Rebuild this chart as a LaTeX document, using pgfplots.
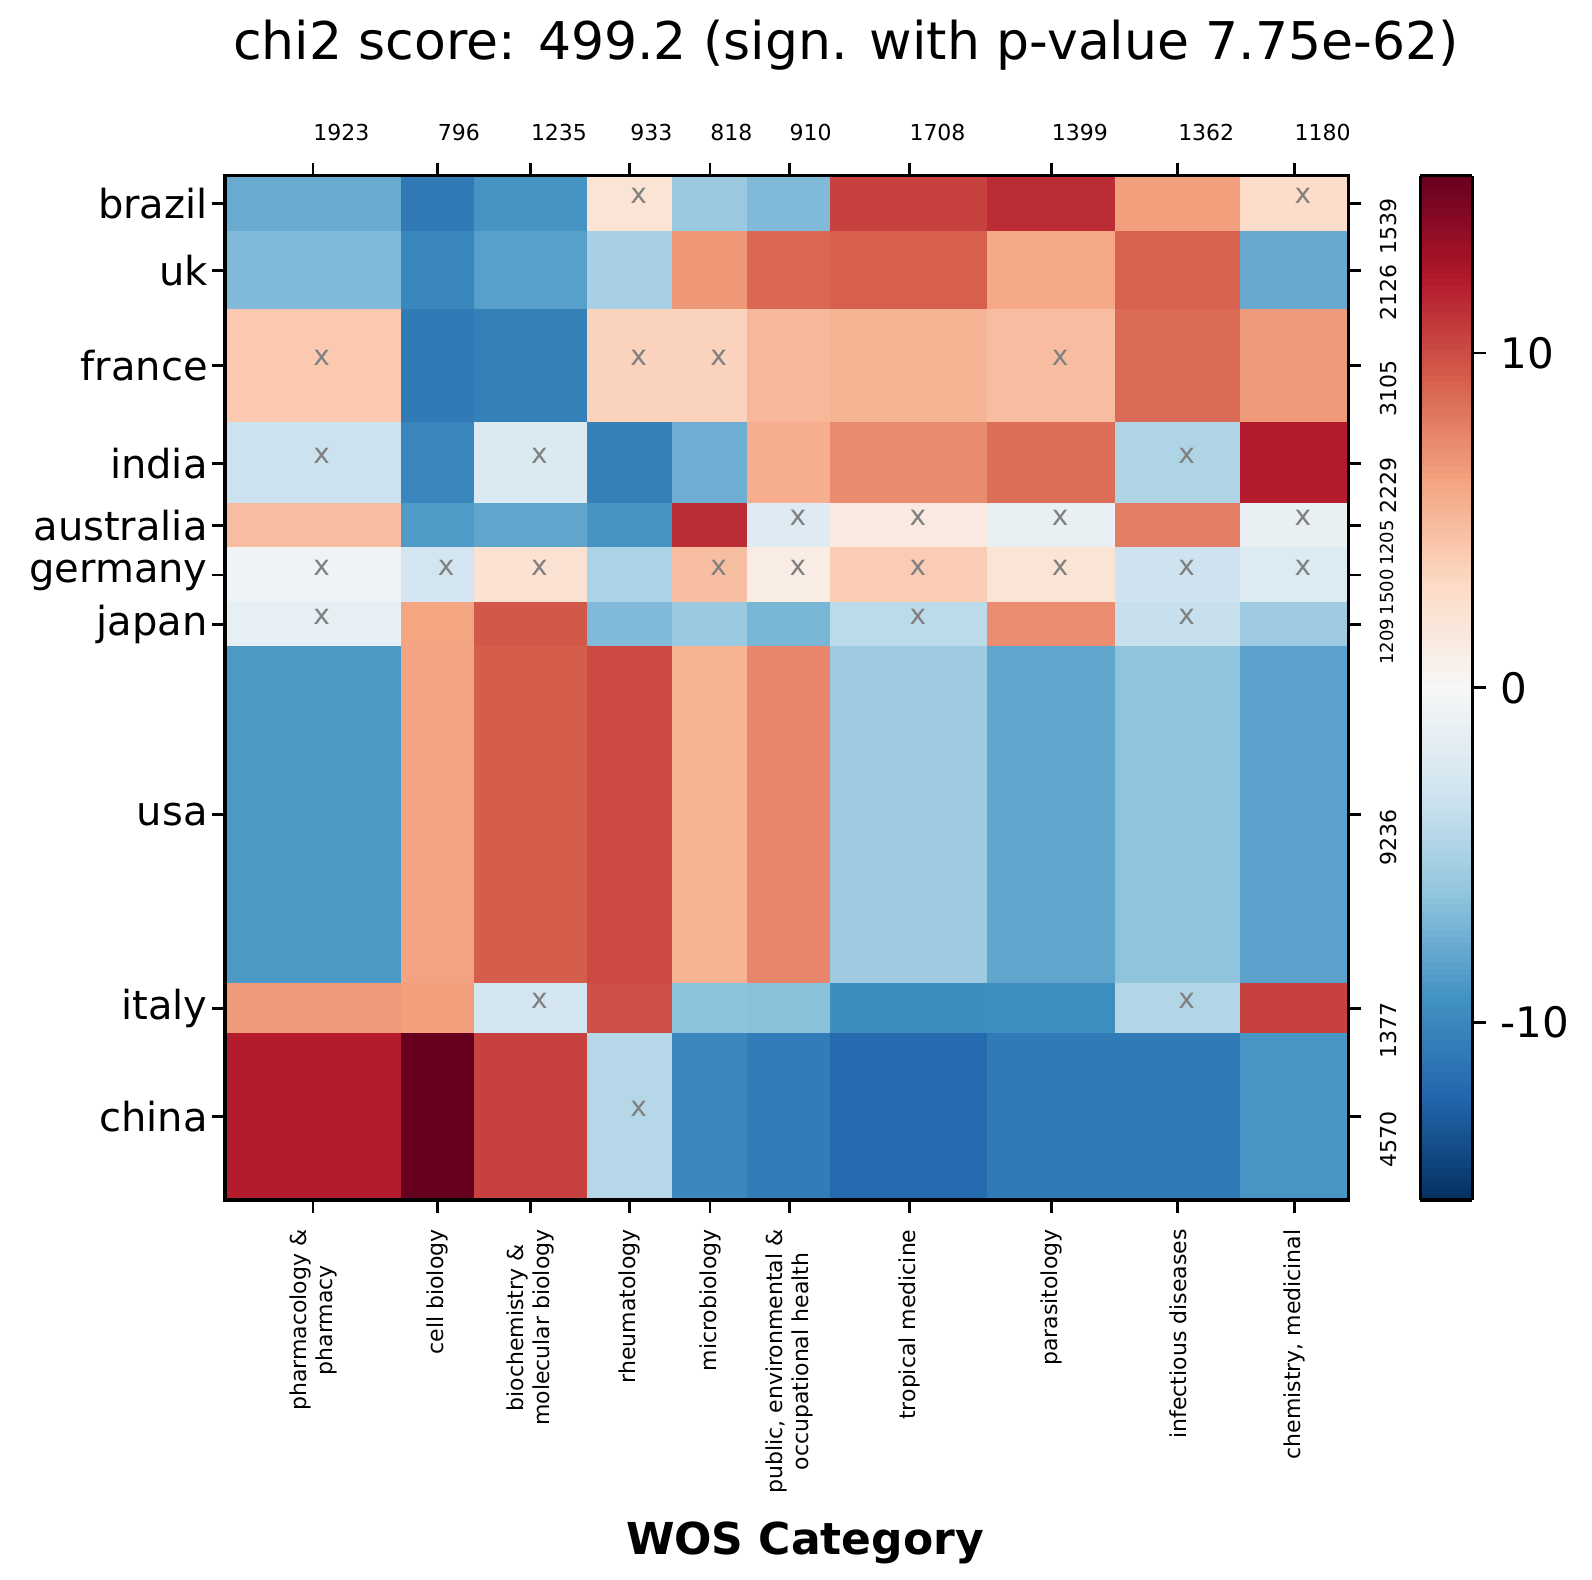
\documentclass[border=0pt]{standalone}
\usepackage{fontspec}
\setmainfont{DejaVu Sans}
\usepackage{pgfplots}
\usepackage{pgfplotstable}
\pgfplotsset{compat=1.18}

% cell corners: x = cumulative category counts, y = cumulative country counts
% c = residual of the cell whose upper-left corner is (x,y); last row/col unused
\pgfplotstableread{
x y c
0 0 -7.7
1923 0 -10.9
2719 0 -9.1
3954 0 2.1
4887 0 -5.7
5705 0 -6.8
6615 0 10.5
8323 0 11.4
9722 0 6.4
11084 0 2.9
12264 0 0
0 1539 -6.8
1923 1539 -10.0
2719 1539 -8.4
3954 1539 -5.1
4887 1539 6.7
5705 1539 8.9
6615 1539 9.2
8323 1539 5.9
9722 1539 9.1
11084 1539 -7.8
12264 1539 0
0 3665 4.1
1923 3665 -10.9
2719 3665 -10.5
3954 3665 3.6
4887 3665 3.6
5705 3665 5.1
6615 3665 5.3
8323 3665 4.8
9722 3665 8.7
11084 3665 6.6
12264 3665 0
0 6770 -3.3
1923 6770 -10.0
2719 6770 -2.3
3954 6770 -10.5
4887 6770 -7.5
5705 6770 5.6
6615 6770 7.3
8323 6770 8.6
9722 6770 -4.7
11084 6770 12.1
12264 6770 0
0 8999 4.8
1923 8999 -8.7
2719 8999 -8.1
3954 8999 -9.1
4887 8999 11.4
5705 8999 -2.0
6615 8999 1.5
8323 8999 -1.2
9722 8999 7.8
11084 8999 -1.2
12264 8999 0
0 10204 -0.6
1923 10204 -3.0
2719 10204 2.3
3954 10204 -4.9
4887 10204 4.7
5705 10204 1.2
6615 10204 3.9
8323 10204 2.2
9722 10204 -3.2
11084 10204 -2.2
12264 10204 0
0 11704 -1.4
1923 11704 6.1
2719 11704 9.5
3954 11704 -6.8
4887 11704 -5.7
5705 11704 -7.1
6615 11704 -4.1
8323 11704 7.2
9722 11704 -3.5
11084 11704 -5.5
12264 11704 0
0 12913 -8.8
1923 12913 6.2
2719 12913 9.3
3954 12913 10.1
4887 12913 5.3
5705 12913 7.5
6615 12913 -5.5
8323 12913 -8.1
9722 12913 -6.2
11084 12913 -8.3
12264 12913 0
0 22149 6.6
1923 22149 6.4
2719 22149 -2.8
3954 22149 9.9
4887 22149 -6.3
5705 22149 -6.4
6615 22149 -9.6
8323 22149 -9.5
9722 22149 -4.5
11084 22149 10.5
12264 22149 0
0 23526 12.1
1923 23526 15.3
2719 23526 10.5
3954 23526 -4.4
4887 23526 -9.9
5705 23526 -10.7
6615 23526 -11.9
8323 23526 -10.9
9722 23526 -10.9
11084 23526 -9.0
12264 23526 0
0 28096 0
1923 28096 0
2719 28096 0
3954 28096 0
4887 28096 0
5705 28096 0
6615 28096 0
8323 28096 0
9722 28096 0
11084 28096 0
12264 28096 0
}\cells

% cells that are not significant
\pgfplotstableread{
x y
4420.5 769.5
11674 769.5
961.5 5217.5
4420.5 5217.5
5296 5217.5
9022.5 5217.5
961.5 7884.5
3336.5 7884.5
10403 7884.5
6160 9601.5
7469 9601.5
9022.5 9601.5
11674 9601.5
961.5 10954
2321 10954
3336.5 10954
5296 10954
6160 10954
7469 10954
9022.5 10954
10403 10954
11674 10954
961.5 12308.5
7469 12308.5
10403 12308.5
3336.5 22837.5
10403 22837.5
4420.5 25811
}\nonsig

\begin{document}
\begin{tikzpicture}
\path[use as bounding box] (-112.5pt,-189.95pt) rectangle (683.5pt,600.05pt);

\begin{axis}[
  at={(0,0)}, anchor=south west,
  scale only axis, width=561.65pt, height=512.25pt,
  xmin=0, xmax=12264, ymin=0, ymax=28096, y dir=reverse,
  scaled ticks=false,
  axis on top,
  axis line style={line width=1.8pt},
  tick align=outside, major tick length=6.5pt,
  tick style={black, line width=1.4pt},
  xtick pos=left, ytick pos=left,
  xtick={961.5,2321,3336.5,4420.5,5296,6160,7469,9022.5,10403,11674},
  xticklabels={pharmacology \&\\pharmacy, cell biology, biochemistry \&\\molecular biology, rheumatology, microbiology, {public, environmental \&\\occupational health}, tropical medicine, parasitology, infectious diseases, {chemistry, medicinal}},
  xticklabel style={yshift=-8pt, rotate=90, anchor=east, align=center, inner sep=0pt, font=\fontsize{11}{13}\selectfont},
  ytick={769.5,2602,5217.5,7884.5,9601.5,10954,12308.5,17531,22837.5,25811},
  yticklabels={brazil,uk,france,india,australia,germany,japan,usa\ ,italy,china},
  yticklabel style={anchor=east, inner sep=0pt, xshift=-2pt, font=\fontsize{20}{24}\selectfont},
  colormap={rdbur}{rgb255=(5,48,97) rgb255=(33,102,172) rgb255=(67,147,195) rgb255=(146,197,222) rgb255=(209,229,240) rgb255=(247,247,247) rgb255=(253,219,199) rgb255=(244,165,130) rgb255=(214,96,77) rgb255=(178,24,43) rgb255=(103,0,31)},
  point meta min=-15.3, point meta max=15.3,
  colorbar sampled,
  colorbar style={
    at={(parent axis.north east)}, anchor=north west, xshift=27.5pt,
    width=26pt, samples=160,
    axis line style={line width=1.8pt},
    tick align=outside, major tick length=7pt,
    tick style={black, line width=1.4pt},
    ytick pos=right,
    ytick={-10,0,10},
    yticklabel style={anchor=west, inner sep=0pt, xshift=7pt, font=\fontsize{21}{25}\selectfont, /pgf/number format/assume math mode=true},
  },
]
\addplot[surf, shader=flat corner, mesh/cols=11, mesh/ordering=x varies, point meta=explicit] table[x=x, y=y, meta=c] {\cells};
\addplot[draw=none, nodes near coords={x}, nodes near coords align={anchor=base west},
  every node near coord/.append style={anchor=base west, inner sep=0pt, text=gray, font=\fontsize{14}{14}\selectfont}]
  table[x=x, y=y] {\nonsig};
\end{axis}

\begin{axis}[
  at={(0,0)}, anchor=south west,
  scale only axis, width=561.65pt, height=512.25pt,
  xmin=0, xmax=12264, ymin=0, ymax=28096, y dir=reverse,
  scaled ticks=false,
  axis x line*=top, axis y line*=right,
  axis line style={line width=1.8pt},
  tick align=outside, major tick length=6.5pt,
  tick style={black, line width=1.4pt},
  xtick={961.5,2321,3336.5,4420.5,5296,6160,7469,9022.5,10403,11674},
  xticklabels={1923,796,1235,933,818,910,1708,1399,1362,1180},
  xticklabel style={anchor=base west, inner sep=0pt, yshift=11pt, font=\fontsize{11}{13}\selectfont},
  ytick={769.5,2602,5217.5,7884.5,9601.5,10954,12308.5,17531,22837.5,25811},
  yticklabels={1539,2126,3105,2229,{\fontsize{9}{9}\selectfont 1205},{\fontsize{9}{9}\selectfont 1500},{\fontsize{9}{9}\selectfont 1209},9236,1377,4570},
  yticklabel style={xshift=9pt, yshift=3pt, rotate=90, anchor=north east, inner sep=0pt, font=\fontsize{11}{13}\selectfont},
]
\end{axis}

\node[anchor=base, font=\fontsize{26}{31}\selectfont] at (310.5pt,570.05pt) {chi2 score: 499.2 (sign. with p-value 7.75e-62)};
\node[anchor=base, font=\bfseries\fontsize{22}{26}\selectfont] at (290pt,-177.45pt) {WOS Category};
\end{tikzpicture}
\end{document}
